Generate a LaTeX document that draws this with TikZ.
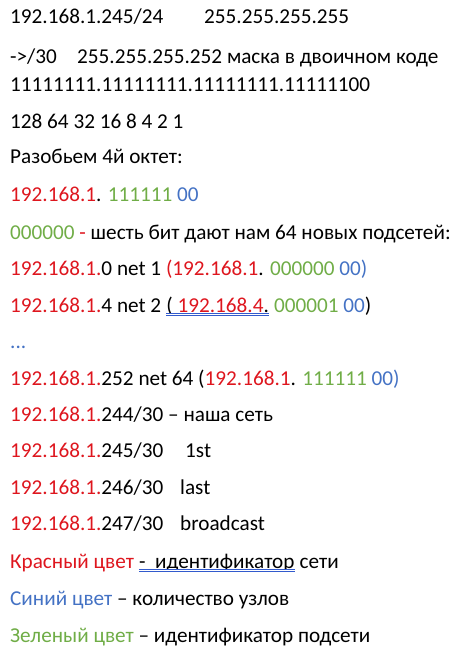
\documentclass[tikz,border=0pt]{standalone}
\usepackage{fontspec}
\setmainfont{Carlito}
\usepackage{tikz}
\usetikzlibrary{calc}

\definecolor{netred}{RGB}{222,22,30}
\definecolor{hostblue}{RGB}{68,114,196}
\definecolor{subgreen}{RGB}{112,173,71}
\definecolor{ulblue}{RGB}{50,90,205}

\newlength\spw

\begin{document}
\fontsize{21.2}{25}\selectfont
\settowidth{\spw}{\ }
\begin{tikzpicture}[x=1pt,y=-1pt,
  row/.style={anchor=base west,inner sep=0pt,font=\fontsize{21.2}{25}\selectfont},
  uline/.style={draw=ulblue,double=white,double distance=1.1pt,line width=.7pt}]
\useasboundingbox (0,0) rectangle (463,668);

% Mask
\node (ipa) at (10,24) [row] {192.168.1.245/24};
\node (ipb) at (204,24) [row] {255.255.255.255};
\node (maska) at (10,64) [row] {->/30};
\node (maskb) at (77,64) [row] {255.255.255.252 маска в двоичном коде};
\node (binary) at (10,92) [row] {11111111.11111111.11111111.11111100};
\node (weights) at (10,129) [row] {128 64 32 16 8 4 2 1};

% Fourth octet
\node (octet) at (10,164) [row] {Разобьем 4й октет:};
\node (split) at (10,202) [row] {\textcolor{netred}{192.168.1}. \textcolor{subgreen}{111111} \textcolor{hostblue}{00}};
\node (sixbits) at (10,239) [row] {\textcolor{subgreen}{000000} \textcolor{netred}{-} шесть бит дают нам 64 новых подсетей:};
\node (net1) at (10,275) [row] {\textcolor{netred}{192.168.1.}0 net 1 \textcolor{netred}{(192.168.1}. \textcolor{subgreen}{000000} \textcolor{hostblue}{00)}};
\node (net2a) at (10,312) [row] {\textcolor{netred}{192.168.1.}4 net 2};
\node (net2b) at ($(net2a.base east)+(\spw,0)$) [row] {(\ \textcolor{netred}{192.168.4}.};
\node (net2c) at ($(net2b.base east)+(\spw,0)$) [row] {\textcolor{subgreen}{000001} \textcolor{hostblue}{00})};
\draw[uline] ([yshift=-2.5pt]net2b.base west) -- ([yshift=-2.5pt]net2b.base east);
\node (dots) at (10,348) [row] {\textcolor{hostblue}{...}};
\node (net64) at (10,385) [row] {\textcolor{netred}{192.168.1.}252 net 64 (\textcolor{netred}{192.168.1}. \textcolor{subgreen}{111111} \textcolor{hostblue}{00)}};

% Our network
\node (ours) at (10,421) [row] {\textcolor{netred}{192.168.1.}244/30 – наша сеть};
\node (firsta) at (10,457) [row] {\textcolor{netred}{192.168.1.}245/30};
\node (firstb) at (185,457) [row] {1st};
\node (lasta) at (10,494) [row] {\textcolor{netred}{192.168.1.}246/30};
\node (lastb) at (180,494) [row] {last};
\node (bcasta) at (10,530) [row] {\textcolor{netred}{192.168.1.}247/30};
\node (bcastb) at (180,530) [row] {broadcast};

% Legend
\node (reda) at (10,568) [row] {\textcolor{netred}{Красный цвет}};
\node (redb) at ($(reda.base east)+(\spw,0)$) [row] {-\ \ идентификатор};
\node (redc) at ($(redb.base east)+(\spw,0)$) [row] {сети};
\draw[uline] ([yshift=-2.5pt]redb.base west) -- ([yshift=-2.5pt]redb.base east);
\node (blue) at (10,605) [row] {\textcolor{hostblue}{Синий цвет} – количество узлов};
\node (green) at (10,642) [row] {\textcolor{subgreen}{Зеленый цвет} – идентификатор подсети};

\end{tikzpicture}
\end{document}
